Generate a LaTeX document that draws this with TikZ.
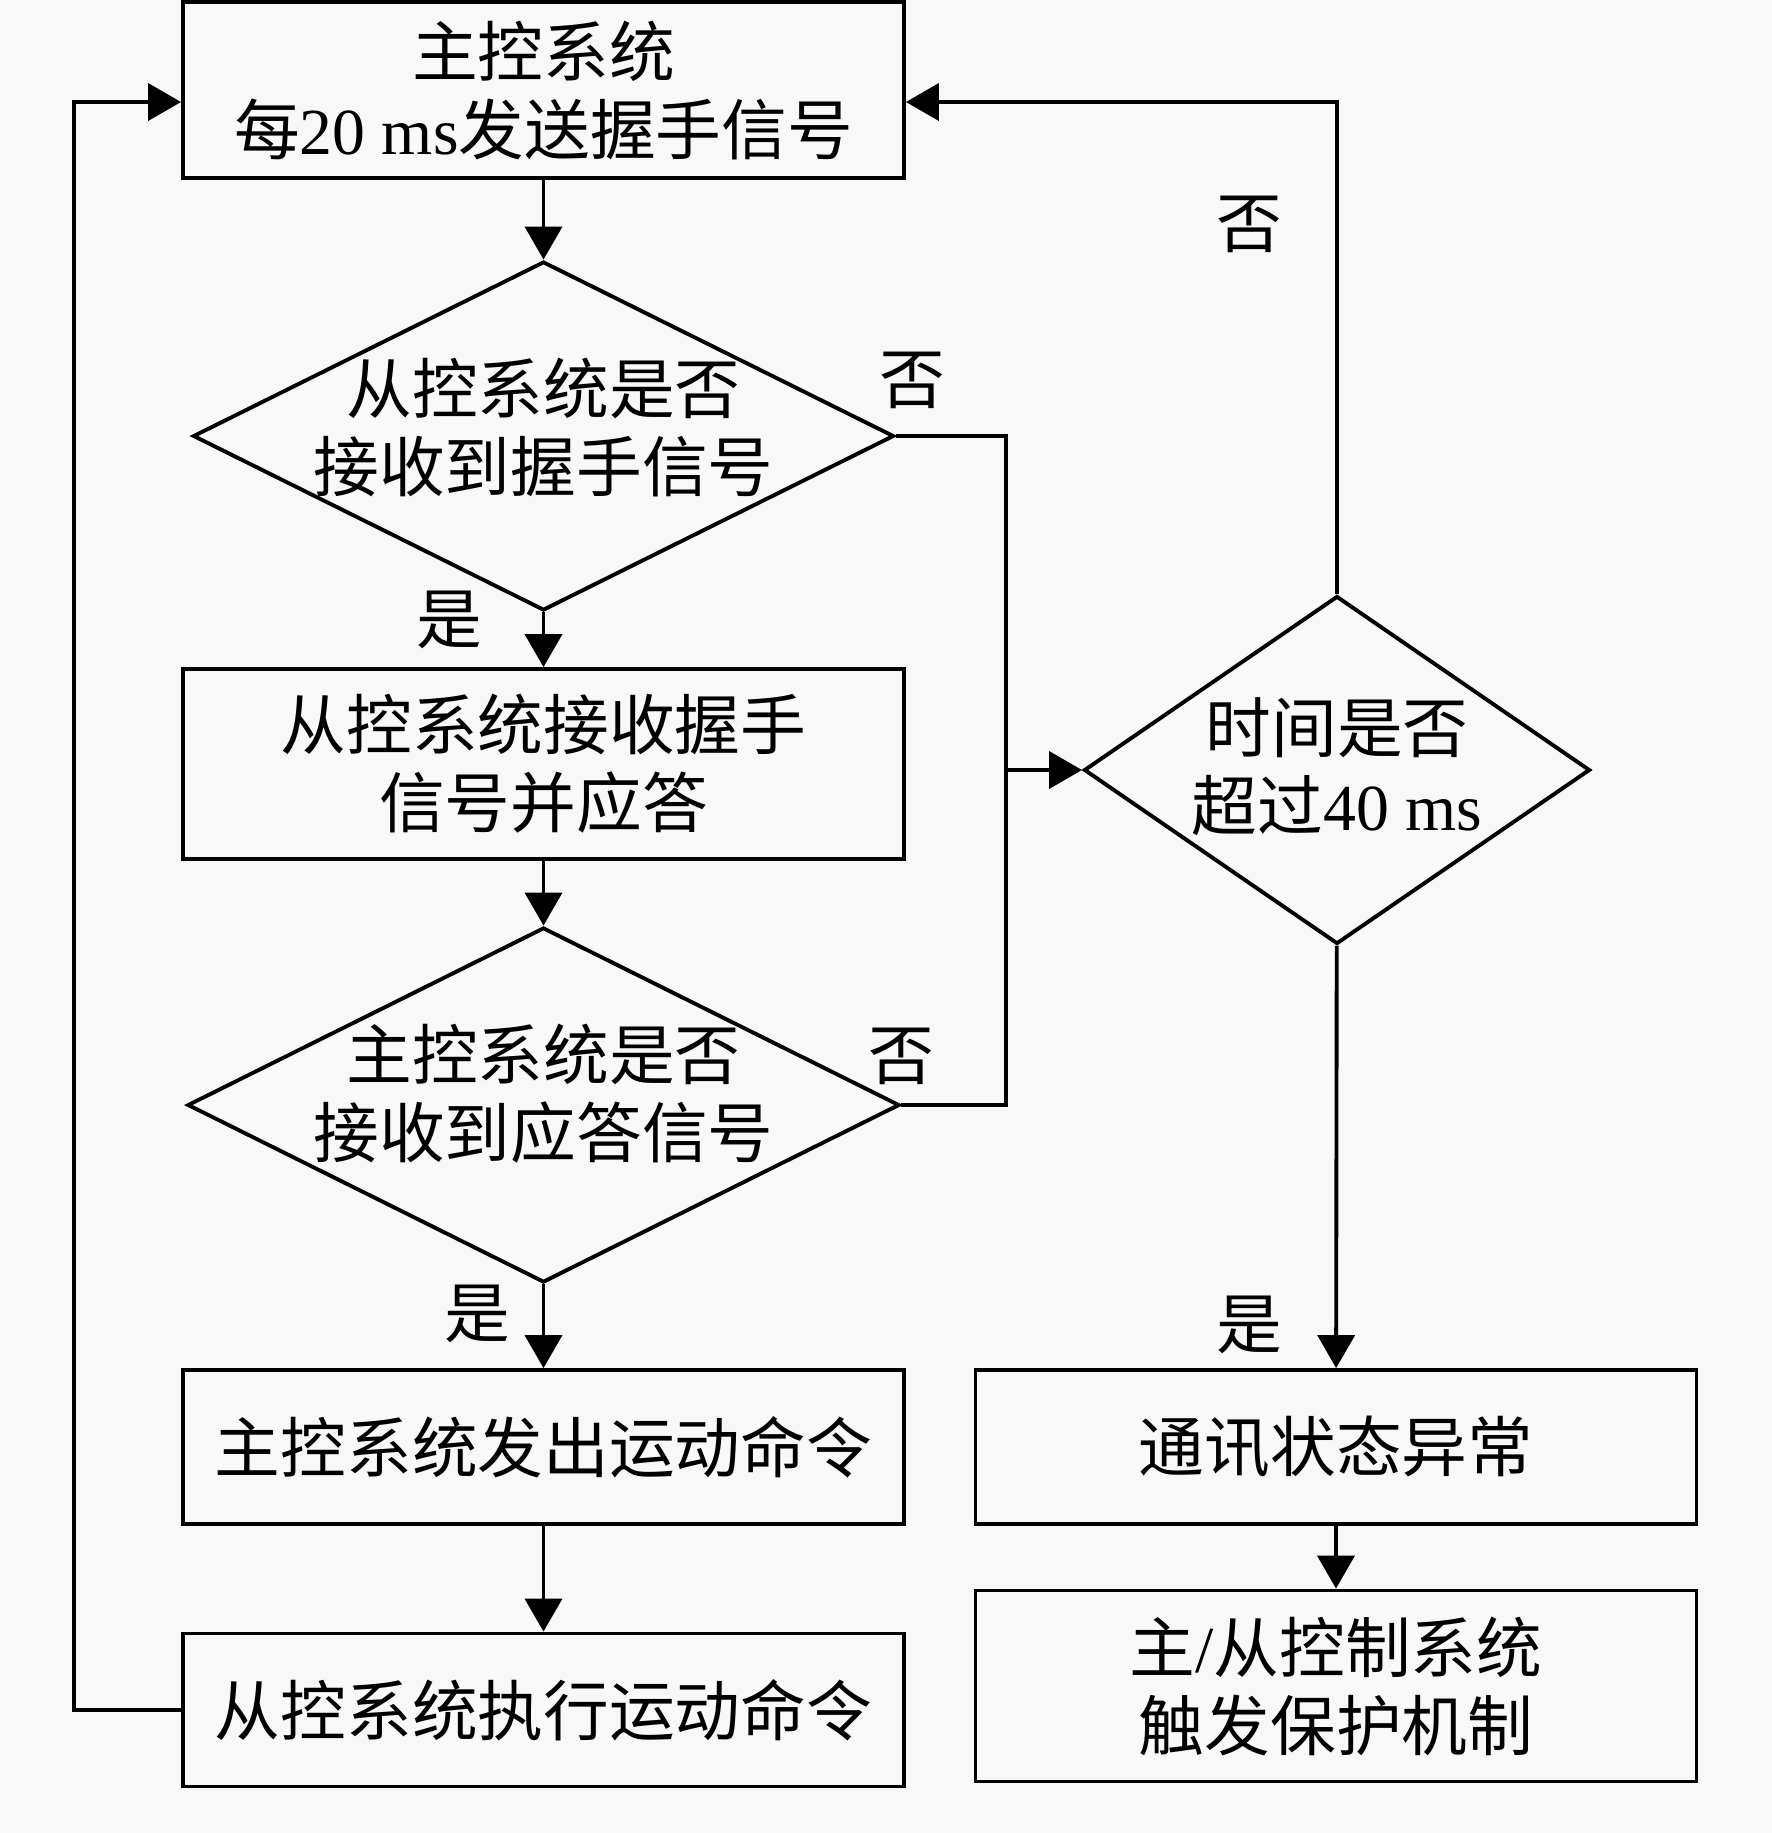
\documentclass[tikz,border=0pt]{standalone}
\usepackage{fontspec}
\setmainfont{Liberation Serif}
\newfontfamily\cjk{Noto Sans CJK SC}
\usetikzlibrary{shapes.geometric,arrows.meta}
\definecolor{bgcol}{RGB}{248,248,248}
\newcommand{\lat}[1]{{\rmfamily #1}}

\begin{document}
\begin{tikzpicture}[x=0.1mm,y=-0.1mm]
	\tikzstyle{box}=[rectangle,draw=black,line width=1.1pt,minimum width=72.1mm,inner sep=0pt,align=center,font=\cjk\fontsize{18.7}{22.2}\selectfont]
	\tikzstyle{dia}=[diamond,draw=black,line width=1.1pt,inner sep=0pt]
	\tikzstyle{txt}=[align=center,inner sep=0pt,font=\cjk\fontsize{18.7}{22.2}\selectfont]
	\tikzstyle{arr}=[-{Triangle[length=3.3mm,width=3.7mm]},line width=1.1pt]
	\fill[bgcol] (0,0) rectangle (1772,1833);
	% left column
	\node[box,minimum height=17.6mm](b1) at (543.5,90) {主控系统\\每\lat{20 ms}发送握手信号};
	\node[dia,minimum width=70.1mm,minimum height=34.9mm](d1) at (543.5,436) {};
	\node[txt,yshift=0.9mm](t1) at (d1) {从控系统是否\\接收到握手信号};
	\node[box,minimum height=19mm](b2) at (543.5,764) {从控系统接收握手\\信号并应答};
	\node[dia,minimum width=71.2mm,minimum height=35.5mm](d2) at (543.5,1105) {};
	\node[txt,yshift=1.1mm](t2) at (d2) {主控系统是否\\接收到应答信号};
	\node[box,minimum height=15.4mm](b3) at (543.5,1447) {主控系统发出运动命令};
	\node[box,minimum height=15.3mm](b4) at (543.5,1710) {从控系统执行运动命令};
	% right column
	\node[dia,minimum width=50.6mm,minimum height=34.8mm](d3) at (1337,770) {};
	\node[txt,yshift=0.3mm](t3) at (d3) {时间是否\\超过\lat{40 ms}};
	\node[box,minimum height=15.4mm](b5) at (1336,1447) {通讯状态异常};
	\node[box,minimum height=19.1mm](b6) at (1336,1686) {主\lat{/}从控制系统\\触发保护机制};
	\coordinate (lp) at (74,102);
	\coordinate (bus) at (1006,770);
	% labels
	\node[txt](n1) at (912,380) {否};
	\node[txt](y1) at (449,620) {是};
	\node[txt](n2) at (901,1056) {否};
	\node[txt](y2) at (477,1314) {是};
	\node[txt](n3) at (1249,224) {否};
	\node[txt](y3) at (1249,1325) {是};
	% connectors
	\draw[arr](b1) -- (d1);
	\draw[arr](d1) -- (b2);
	\draw[arr](b2) -- (d2);
	\draw[arr](d2) -- (b3);
	\draw[arr](b3) -- (b4);
	\draw[arr](b4.west) -| (lp) -- (lp -| b1.west);
	\draw[line width=1.1pt](d1.east) -| (bus);
	\draw[line width=1.1pt](d2.east) -| (bus);
	\draw[arr](bus) -- (d3.west);
	\draw[arr](d3.north) |- (lp -| b1.east);
	\draw[arr](d3) -- (b5);
	\draw[arr](b5) -- (b6);
\end{tikzpicture}
\end{document}
